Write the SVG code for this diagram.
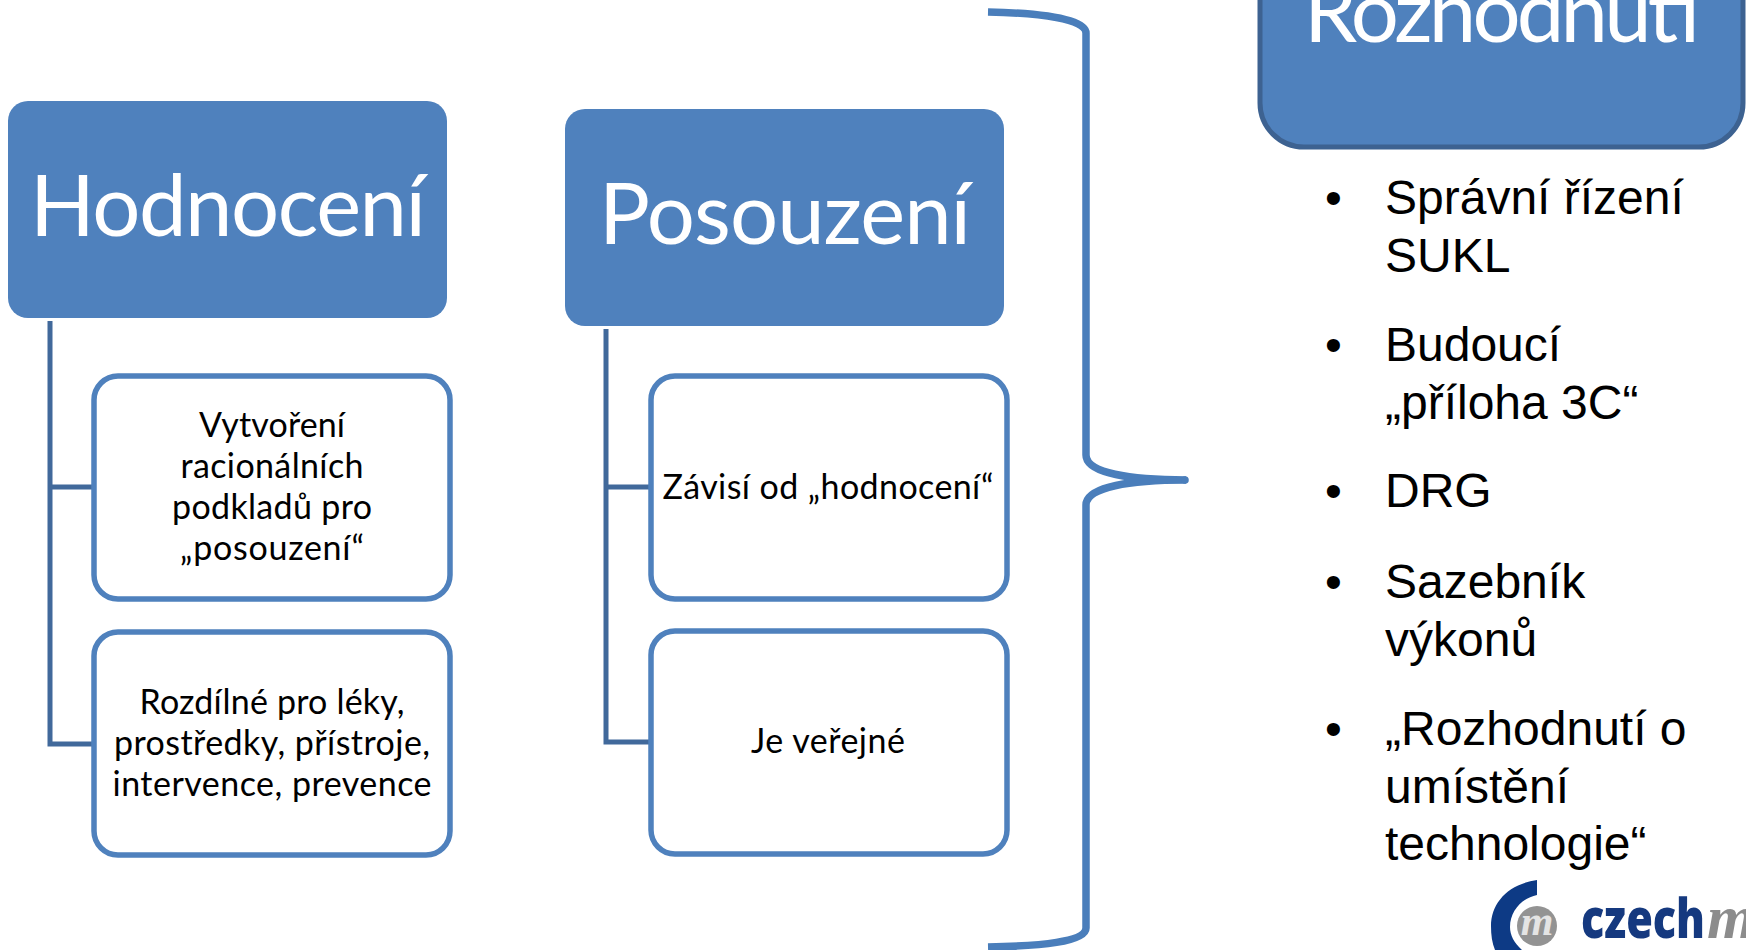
<svg xmlns="http://www.w3.org/2000/svg" width="1746" height="950" viewBox="0 0 1746 950">
<style>
.head{fill:#4f81bd}
.headtext{fill:#fff;font-family:"Lato","Open Sans",sans-serif;font-size:85px;text-anchor:middle}
.child{fill:#fff;stroke:#4f81bd;stroke-width:5.5}
.childtext{fill:#000;font-family:"Lato","Open Sans",sans-serif;font-size:34px;text-anchor:middle}
.conn{fill:none;stroke:#41699b;stroke-width:5}
.brace{fill:none;stroke:#4a7ebb;stroke-width:7.5;stroke-linecap:butt}
.list{fill:#000;font-family:"Liberation Sans",Arial,sans-serif;font-size:48px}
</style>
<rect width="1746" height="950" fill="#fff"/>
<g id="connectors">
<path class="conn" d="M50 321V744H94M50 487H94"/>
<path class="conn" d="M606 329V742H650M606 487H650"/>
</g>
<g id="brace"><path class="brace" d="M988 12C1040 13 1086 19 1086 33V455C1086 473 1130 480 1186 480C1130 480 1086 487 1086 505V928C1086 942 1040 946 988 947"/><circle cx="1185" cy="480" r="3.8" fill="#4a7ebb"/></g>
<g id="hodnoceni"><rect class="head" x="8" y="101" width="439" height="217" rx="20"/><text class="headtext" x="228" y="236" textLength="396">Hodnocení</text></g>
<g id="posouzeni"><rect class="head" x="565" y="109" width="439" height="217" rx="20"/><text class="headtext" x="785" y="244" textLength="372">Posouzení</text></g>
<g id="rozhodnuti"><rect x="1260" y="-80" width="483" height="227" rx="44" fill="#4f81bd" stroke="#3d6291" stroke-width="5"/><text class="headtext" x="1502" y="42" textLength="396">Rozhodnutí</text></g>
<g id="hodnoceni-1"><rect class="child" x="94" y="376" width="356" height="223" rx="24"/>
<text class="childtext" x="272" y="437" textLength="146">Vytvoření</text><text class="childtext" x="272" y="478" textLength="183">racionálních</text><text class="childtext" x="272" y="519" textLength="200">podkladů pro</text><text class="childtext" x="272" y="560" textLength="184">„posouzení“</text></g>
<g id="hodnoceni-2"><rect class="child" x="94" y="632" width="356" height="223" rx="24"/>
<text class="childtext" x="272" y="714" textLength="265">Rozdílné pro léky,</text><text class="childtext" x="272" y="755" textLength="316">prostředky, přístroje,</text><text class="childtext" x="272" y="796" textLength="319">intervence, prevence</text></g>
<g id="posouzeni-1"><rect class="child" x="651" y="376" width="356" height="223" rx="24"/><text class="childtext" x="828" y="499" textLength="331">Závisí od „hodnocení“</text></g>
<g id="posouzeni-2"><rect class="child" x="651" y="631" width="356" height="223" rx="24"/><text class="childtext" x="828" y="753" textLength="154">Je veřejné</text></g>
<g id="seznam" class="list">
<text x="1325" y="214">•</text><text x="1385" y="214">Správní řízení</text><text x="1385" y="272">SUKL</text>
<text x="1325" y="361">•</text><text x="1385" y="361">Budoucí</text><text x="1385" y="419">„příloha 3C“</text>
<text x="1325" y="507">•</text><text x="1385" y="507">DRG</text>
<text x="1325" y="598">•</text><text x="1385" y="598">Sazebník</text><text x="1385" y="656">výkonů</text>
<text x="1325" y="745">•</text><text x="1385" y="745">„Rozhodnutí o</text><text x="1385" y="803">umístění</text><text x="1385" y="860">technologie“</text>
</g>
<g id="logo">
<path d="M1537 880C1508 884 1491 903 1491 926C1491 935 1492 943 1495 950H1522C1514 943 1510 935 1510 927C1510 911 1522 898 1537 895Z" fill="#0d3a85"/>
<circle cx="1537" cy="926" r="20" fill="#939393"/>
<text x="1537" y="935" text-anchor="middle" font-size="42" font-style="italic" font-weight="700" fill="#e4e4e4" font-family="Liberation Serif, serif">m</text>
<text x="1581" y="938" font-size="54" font-weight="800" fill="#15397f" font-family="Open Sans, sans-serif" textLength="124" lengthAdjust="spacingAndGlyphs">czech</text>
<text x="1707" y="938" font-size="62" font-weight="700" font-style="italic" fill="#8c8c8c" font-family="Liberation Serif, serif">m</text>
</g>
</svg>
